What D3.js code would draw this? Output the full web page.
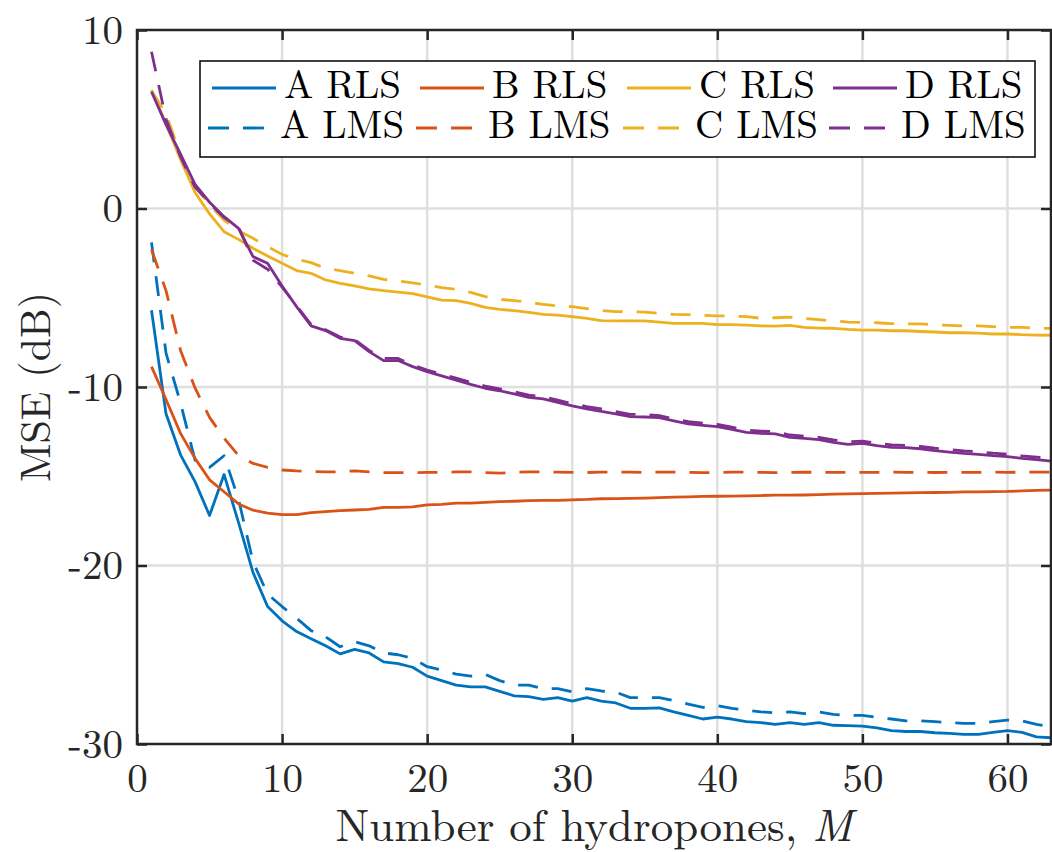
<!DOCTYPE html>
<html>
<head>
<meta charset="utf-8">
<script src="https://cdn.jsdelivr.net/npm/d3@7"></script>
<style>
  body { margin: 0; background: #fff; }
  svg { display: block; }
  svg text { font-family: "Latin Modern Roman", "CMU Serif", "Liberation Serif", serif; }
</style>
</head>
<body>
<div id="viz"></div>
<script>
// number of hydrophones M = 1..63
const M = d3.range(1, 64);

const aRLS = [-5.7, -11.5, -13.8, -15.3, -17.2, -14.9, -17.6, -20.4, -22.3, -23.1, -23.7, -24.1, -24.5, -24.95, -24.7, -24.9, -25.4, -25.5, -25.7, -26.2,
  -26.45, -26.7, -26.8, -26.8, -27.05, -27.3, -27.35, -27.5, -27.4, -27.6, -27.4, -27.6, -27.7, -28.0, -28.0, -27.98, -28.2, -28.4, -28.6, -28.5,
  -28.6, -28.75, -28.8, -28.9, -28.8, -28.9, -28.8, -28.95, -28.97, -29.0, -29.1, -29.25, -29.3, -29.3, -29.37, -29.4, -29.46, -29.46, -29.35, -29.25,
  -29.35, -29.6, -29.65];
const aLMS = [-1.9, -8.1, -10.9, -14.1, -14.5, -13.85, -16.3, -19.8, -21.6, -22.3, -22.95, -23.65, -24.0, -24.55, -24.27, -24.5, -24.9, -25.0, -25.2, -25.67,
  -25.86, -26.08, -26.2, -26.1, -26.45, -26.7, -26.7, -26.9, -26.9, -27.07, -26.9, -27.03, -27.1, -27.4, -27.4, -27.4, -27.57, -27.76, -27.95, -27.85,
  -28.0, -28.1, -28.2, -28.25, -28.2, -28.3, -28.2, -28.34, -28.4, -28.4, -28.5, -28.6, -28.7, -28.7, -28.75, -28.8, -28.84, -28.84, -28.75, -28.66,
  -28.7, -28.9, -29.03];
const bRLS = [-8.86, -10.7, -12.6, -14.0, -15.2, -15.87, -16.55, -16.9, -17.07, -17.15, -17.15, -17.04, -16.98, -16.93, -16.89, -16.86, -16.74, -16.74, -16.72, -16.6,
  -16.58, -16.5, -16.5, -16.46, -16.42, -16.4, -16.37, -16.35, -16.35, -16.32, -16.3, -16.26, -16.25, -16.24, -16.22, -16.2, -16.17, -16.15, -16.13, -16.12,
  -16.11, -16.1, -16.08, -16.06, -16.06, -16.05, -16.03, -16.0, -15.99, -15.97, -15.96, -15.95, -15.93, -15.92, -15.91, -15.9, -15.88, -15.87, -15.86, -15.85,
  -15.82, -15.79, -15.78];
const bLMS = [-2.3, -4.6, -7.95, -10.05, -11.7, -12.86, -13.85, -14.28, -14.5, -14.65, -14.7, -14.73, -14.76, -14.75, -14.7, -14.76, -14.8, -14.8, -14.8, -14.78,
  -14.78, -14.76, -14.76, -14.8, -14.83, -14.78, -14.76, -14.76, -14.77, -14.78, -14.79, -14.77, -14.76, -14.77, -14.78, -14.77, -14.77, -14.78, -14.8, -14.79,
  -14.77, -14.77, -14.78, -14.8, -14.79, -14.77, -14.78, -14.78, -14.78, -14.78, -14.78, -14.77, -14.78, -14.78, -14.79, -14.78, -14.78, -14.78, -14.77, -14.78,
  -14.77, -14.77, -14.77];
const cRLS = [6.64, 4.75, 2.75, 0.9, -0.3, -1.3, -1.73, -2.23, -2.66, -3.07, -3.48, -3.63, -4.0, -4.19, -4.34, -4.5, -4.6, -4.68, -4.77, -4.95,
  -5.13, -5.16, -5.31, -5.54, -5.65, -5.72, -5.82, -5.93, -5.97, -6.06, -6.15, -6.28, -6.3, -6.3, -6.3, -6.36, -6.43, -6.43, -6.43, -6.51,
  -6.5, -6.53, -6.58, -6.59, -6.55, -6.66, -6.7, -6.71, -6.77, -6.81, -6.81, -6.85, -6.85, -6.89, -6.92, -6.96, -6.96, -6.98, -7.03, -7.03,
  -7.07, -7.09, -7.1];
const cLMS = [6.6, 5.3, 3.0, 1.3, 0.2, -0.65, -1.26, -1.67, -2.14, -2.57, -2.85, -3.03, -3.35, -3.48, -3.63, -3.78, -3.97, -4.06, -4.17, -4.29,
  -4.43, -4.53, -4.7, -4.94, -5.09, -5.16, -5.26, -5.37, -5.46, -5.5, -5.61, -5.72, -5.78, -5.78, -5.8, -5.87, -5.93, -5.94, -5.98, -6.02,
  -6.02, -6.06, -6.15, -6.12, -6.08, -6.16, -6.23, -6.3, -6.36, -6.38, -6.4, -6.45, -6.46, -6.46, -6.51, -6.55, -6.58, -6.58, -6.62, -6.66,
  -6.66, -6.7, -6.72];
const dRLS = [6.54, 4.7, 3.05, 1.35, 0.35, -0.46, -1.11, -2.7, -3.07, -4.34, -5.5, -6.58, -6.84, -7.27, -7.4, -8.02, -8.52, -8.52, -8.86, -9.14,
  -9.38, -9.61, -9.85, -10.07, -10.21, -10.39, -10.58, -10.67, -10.86, -11.06, -11.23, -11.36, -11.51, -11.66, -11.68, -11.72, -11.9, -12.07, -12.15, -12.22,
  -12.37, -12.54, -12.6, -12.63, -12.82, -12.88, -12.95, -13.1, -13.21, -13.16, -13.29, -13.38, -13.4, -13.46, -13.57, -13.65, -13.72, -13.77, -13.85, -13.9,
  -14.0, -14.07, -14.15];
const dLMS = [8.78, 5.0, 2.9, 1.2, 0.3, -0.5, -1.05, -2.9, -3.4, -4.4, -5.45, -6.5, -6.8, -7.2, -7.35, -7.95, -8.4, -8.4, -8.78, -9.05,
  -9.28, -9.5, -9.74, -9.95, -10.1, -10.27, -10.45, -10.55, -10.74, -10.93, -11.1, -11.22, -11.38, -11.53, -11.55, -11.6, -11.78, -11.94, -12.03, -12.1,
  -12.25, -12.41, -12.47, -12.5, -12.69, -12.75, -12.82, -12.96, -13.07, -13.03, -13.16, -13.24, -13.27, -13.33, -13.43, -13.51, -13.58, -13.63, -13.71, -13.76,
  -13.86, -13.93, -14.0];

const xTicks = [0, 10, 20, 30, 40, 50, 60];
const yTicks = [-30, -20, -10, 0, 10];

const series = [
  {name: "A RLS", values: aRLS, color: "#0072BD", dashed: false},
  {name: "A LMS", values: aLMS, color: "#0072BD", dashed: true},
  {name: "B RLS", values: bRLS, color: "#D95319", dashed: false},
  {name: "B LMS", values: bLMS, color: "#D95319", dashed: true},
  {name: "C RLS", values: cRLS, color: "#EDB120", dashed: false},
  {name: "C LMS", values: cLMS, color: "#EDB120", dashed: true},
  {name: "D RLS", values: dRLS, color: "#7E2F8E", dashed: false},
  {name: "D LMS", values: dLMS, color: "#7E2F8E", dashed: true}
];

const FONT = '"Latin Modern Roman", "CMU Serif", "Liberation Serif", serif';
const W = 1052, H = 852;
const margin = {top: 30, right: 1, bottom: 108, left: 137};
const width = W - margin.left - margin.right,
      height = H - margin.top - margin.bottom;
const dash = "20,14";

const svg = d3.select("#viz").append("svg")
    .attr("width", W)
    .attr("height", H);
const g = svg.append("g")
    .attr("transform", "translate(" + margin.left + "," + margin.top + ")");

const x = d3.scaleLinear().domain([0, 63]).range([0, width]);
const y = d3.scaleLinear().domain([-30, 10]).range([height, 0]);

// grid
g.append("g").selectAll("line").data(xTicks.slice(1)).join("line")
    .attr("x1", d => x(d)).attr("x2", d => x(d))
    .attr("y1", 0).attr("y2", height)
    .attr("stroke", "#dfdfdf").attr("stroke-width", 2.5);
g.append("g").selectAll("line").data(yTicks.slice(1, -1)).join("line")
    .attr("x1", 0).attr("x2", width)
    .attr("y1", d => y(d)).attr("y2", d => y(d))
    .attr("stroke", "#dfdfdf").attr("stroke-width", 2.5);

// lines
const line = d3.line()
    .x((d, i) => x(M[i]))
    .y(d => y(d));
series.forEach(s => {
  g.append("path")
    .datum(s.values)
    .attr("fill", "none")
    .attr("stroke", s.color)
    .attr("stroke-width", 2.8)
    .attr("stroke-dasharray", s.dashed ? dash : null)
    .attr("stroke-linejoin", "round")
    .attr("d", line);
});

// axes
function styleAxis(sel, labels) {
  sel.attr("font-family", FONT).attr("font-size", 41);
  sel.select(".domain").remove();
  sel.selectAll(".tick line").attr("stroke", "#262626").attr("stroke-width", 2.5);
  sel.selectAll(".tick text").attr("fill", "#262626");
  if (!labels) sel.selectAll(".tick text").remove();
}
const fmt = d => d < 0 ? "-" + Math.abs(d) : String(d);

g.append("g").attr("transform", "translate(0," + height + ")")
  .call(d3.axisBottom(x).tickValues(xTicks).tickSize(-10).tickPadding(19).tickFormat(fmt))
  .call(s => styleAxis(s, true));
g.append("g")
  .call(d3.axisLeft(y).tickValues(yTicks).tickSize(-10).tickPadding(14).tickFormat(fmt))
  .call(s => styleAxis(s, true));
g.append("g")
  .call(d3.axisTop(x).tickValues(xTicks).tickSize(-10))
  .call(s => styleAxis(s, false));
g.append("g").attr("transform", "translate(" + width + ",0)")
  .call(d3.axisRight(y).tickValues(yTicks).tickSize(-10))
  .call(s => styleAxis(s, false));

g.append("rect")
    .attr("x", 0).attr("y", 0)
    .attr("width", width).attr("height", height)
    .attr("fill", "none")
    .attr("stroke", "#262626")
    .attr("stroke-width", 2.5);

// axis labels
svg.append("text")
    .attr("x", margin.left + width / 2)
    .attr("y", 841)
    .attr("text-anchor", "middle")
    .attr("fill", "#262626")
    .style("font-size", "45px")
    .text("Number of hydropones, ")
  .append("tspan")
    .style("font-style", "italic")
    .text("M");

svg.append("text")
    .attr("transform", "translate(50," + (margin.top + height / 2) + ") rotate(-90)")
    .attr("text-anchor", "middle")
    .attr("fill", "#262626")
    .style("font-size", "42px")
    .text("MSE (dB)");

// legend
const legend = svg.append("g");
legend.append("rect")
    .attr("x", 200).attr("y", 61)
    .attr("width", 835).attr("height", 96)
    .attr("fill", "#fff")
    .attr("stroke", "#000")
    .attr("stroke-width", 1.5);

const colX = [212, 420, 627, 833];
const rowY = [88, 128];
series.forEach((s, i) => {
  const col = Math.floor(i / 2), row = i % 2;
  const x0 = colX[col] - (row ? 4 : 0);
  legend.append("line")
    .attr("x1", x0).attr("x2", x0 + 64)
    .attr("y1", rowY[row]).attr("y2", rowY[row])
    .attr("stroke", s.color)
    .attr("stroke-width", 2.8)
    .attr("stroke-dasharray", s.dashed ? "21,14" : null);
  legend.append("text")
    .attr("x", x0 + 72)
    .attr("y", rowY[row] + 10)
    .attr("fill", "#000")
    .style("font-size", "39px")
    .text(s.name);
});
</script>
</body>
</html>
